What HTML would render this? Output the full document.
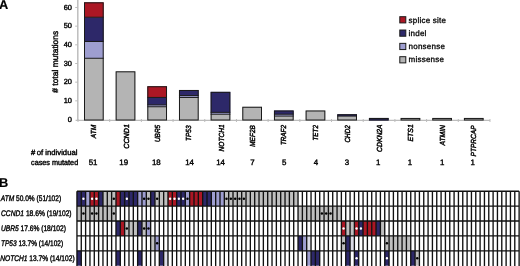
<!DOCTYPE html>
<html><head><meta charset="utf-8"><style>
html,body{margin:0;padding:0;background:#fff;}
body{width:520px;height:266px;overflow:hidden;}
svg{display:block;will-change:transform;text-rendering:geometricPrecision;font-family:"Liberation Sans",sans-serif;}
text{stroke:#000;stroke-width:0.2px;stroke-linejoin:round;}
.tk{font-size:7.4px;fill:#000;stroke-width:0.4px;}
.gl{font-size:7.4px;font-style:italic;fill:#000;stroke-width:0.45px;}
.num{font-size:7.9px;fill:#000;stroke-width:0.4px;}
.yl{font-size:8.45px;fill:#000;stroke-width:0.4px;}
.lg{font-size:8px;fill:#000;letter-spacing:0.22px;stroke-width:0.3px;}
.pl{font-size:12.8px;font-weight:bold;fill:#000;}
.cm{font-size:7.7px;fill:#000;stroke-width:0.4px;}
.rl{font-size:8.1px;fill:#000;stroke-width:0.4px;}
</style></head><body>
<svg width="520" height="266" viewBox="0 0 520 266">
<line x1="77.8" y1="0" x2="77.8" y2="121" stroke="#bdbdbd" stroke-width="1.5"/>
<text x="71.9" y="121.70" class="tk" text-anchor="end">0</text>
<line x1="75.2" y1="100.83" x2="77.9" y2="100.83" stroke="#bdbdbd" stroke-width="1"/>
<text x="71.9" y="103.03" class="tk" text-anchor="end">10</text>
<line x1="75.2" y1="82.16" x2="77.9" y2="82.16" stroke="#bdbdbd" stroke-width="1"/>
<text x="71.9" y="84.36" class="tk" text-anchor="end">20</text>
<line x1="75.2" y1="63.49" x2="77.9" y2="63.49" stroke="#bdbdbd" stroke-width="1"/>
<text x="71.9" y="65.69" class="tk" text-anchor="end">30</text>
<line x1="75.2" y1="44.82" x2="77.9" y2="44.82" stroke="#bdbdbd" stroke-width="1"/>
<text x="71.9" y="47.02" class="tk" text-anchor="end">40</text>
<line x1="75.2" y1="26.15" x2="77.9" y2="26.15" stroke="#bdbdbd" stroke-width="1"/>
<text x="71.9" y="28.35" class="tk" text-anchor="end">50</text>
<line x1="75.2" y1="7.48" x2="77.9" y2="7.48" stroke="#bdbdbd" stroke-width="1"/>
<text x="71.9" y="9.68" class="tk" text-anchor="end">60</text>
<line x1="75.6" y1="120.4" x2="490" y2="120.4" stroke="#bdbdbd" stroke-width="1.1"/>
<line x1="78.00" y1="119" x2="78.00" y2="122" stroke="#bdbdbd" stroke-width="1"/>
<line x1="109.69" y1="119" x2="109.69" y2="122" stroke="#bdbdbd" stroke-width="1"/>
<line x1="141.38" y1="119" x2="141.38" y2="122" stroke="#bdbdbd" stroke-width="1"/>
<line x1="173.07" y1="119" x2="173.07" y2="122" stroke="#bdbdbd" stroke-width="1"/>
<line x1="204.76" y1="119" x2="204.76" y2="122" stroke="#bdbdbd" stroke-width="1"/>
<line x1="236.45" y1="119" x2="236.45" y2="122" stroke="#bdbdbd" stroke-width="1"/>
<line x1="268.14" y1="119" x2="268.14" y2="122" stroke="#bdbdbd" stroke-width="1"/>
<line x1="299.83" y1="119" x2="299.83" y2="122" stroke="#bdbdbd" stroke-width="1"/>
<line x1="331.52" y1="119" x2="331.52" y2="122" stroke="#bdbdbd" stroke-width="1"/>
<line x1="363.21" y1="119" x2="363.21" y2="122" stroke="#bdbdbd" stroke-width="1"/>
<line x1="394.90" y1="119" x2="394.90" y2="122" stroke="#bdbdbd" stroke-width="1"/>
<line x1="426.59" y1="119" x2="426.59" y2="122" stroke="#bdbdbd" stroke-width="1"/>
<line x1="458.28" y1="119" x2="458.28" y2="122" stroke="#bdbdbd" stroke-width="1"/>
<line x1="489.97" y1="119" x2="489.97" y2="122" stroke="#bdbdbd" stroke-width="1"/>
<rect x="84.00" y="58.27" width="19.70" height="62.23" fill="#b4b4b4"/>
<rect x="84.00" y="41.48" width="19.70" height="16.79" fill="#9e9ed0"/>
<rect x="84.00" y="17.23" width="19.70" height="24.25" fill="#2d2869"/>
<rect x="84.00" y="2.31" width="19.70" height="14.92" fill="#ab1724"/>
<rect x="84.50" y="2.81" width="18.70" height="117.19" fill="none" stroke="#1a1a1a" stroke-width="1"/>
<line x1="84.00" y1="58.27" x2="103.70" y2="58.27" stroke="#1a1a1a" stroke-width="1"/>
<line x1="84.00" y1="41.48" x2="103.70" y2="41.48" stroke="#1a1a1a" stroke-width="1"/>
<line x1="84.00" y1="17.23" x2="103.70" y2="17.23" stroke="#1a1a1a" stroke-width="1"/>
<text transform="translate(96.40,124.90) rotate(-90)" class="gl" text-anchor="end" textLength="13.30" lengthAdjust="spacingAndGlyphs">ATM</text>
<text x="93.05" y="164.5" class="num" text-anchor="middle">51</text>
<rect x="115.66" y="71.32" width="19.70" height="49.18" fill="#b4b4b4"/>
<rect x="116.16" y="71.82" width="18.70" height="48.18" fill="none" stroke="#1a1a1a" stroke-width="1"/>
<text transform="translate(129.10,124.10) rotate(-90)" class="gl" text-anchor="end" textLength="24.70" lengthAdjust="spacingAndGlyphs">CCND1</text>
<text x="123.76" y="164.5" class="num" text-anchor="middle">19</text>
<rect x="147.32" y="106.76" width="19.70" height="13.74" fill="#b4b4b4"/>
<rect x="147.32" y="104.90" width="19.70" height="1.87" fill="#9e9ed0"/>
<rect x="147.32" y="97.44" width="19.70" height="7.46" fill="#2d2869"/>
<rect x="147.32" y="86.24" width="19.70" height="11.19" fill="#ab1724"/>
<rect x="147.82" y="86.74" width="18.70" height="33.26" fill="none" stroke="#1a1a1a" stroke-width="1"/>
<line x1="147.32" y1="106.76" x2="167.02" y2="106.76" stroke="#1a1a1a" stroke-width="1"/>
<line x1="147.32" y1="104.90" x2="167.02" y2="104.90" stroke="#1a1a1a" stroke-width="1"/>
<line x1="147.32" y1="97.44" x2="167.02" y2="97.44" stroke="#1a1a1a" stroke-width="1"/>
<text transform="translate(159.60,124.80) rotate(-90)" class="gl" text-anchor="end" textLength="17.30" lengthAdjust="spacingAndGlyphs">UBR5</text>
<text x="156.27" y="164.5" class="num" text-anchor="middle">18</text>
<rect x="178.98" y="97.44" width="19.70" height="23.06" fill="#b4b4b4"/>
<rect x="178.98" y="95.57" width="19.70" height="1.87" fill="#9e9ed0"/>
<rect x="178.98" y="89.98" width="19.70" height="5.60" fill="#2d2869"/>
<rect x="179.48" y="90.48" width="18.70" height="29.52" fill="none" stroke="#1a1a1a" stroke-width="1"/>
<line x1="178.98" y1="97.44" x2="198.68" y2="97.44" stroke="#1a1a1a" stroke-width="1"/>
<line x1="178.98" y1="95.57" x2="198.68" y2="95.57" stroke="#1a1a1a" stroke-width="1"/>
<text transform="translate(190.90,125.40) rotate(-90)" class="gl" text-anchor="end" textLength="15.60" lengthAdjust="spacingAndGlyphs">TP53</text>
<text x="189.63" y="164.5" class="num" text-anchor="middle">14</text>
<rect x="210.64" y="114.22" width="19.70" height="6.28" fill="#b4b4b4"/>
<rect x="210.64" y="112.36" width="19.70" height="1.87" fill="#9e9ed0"/>
<rect x="210.64" y="91.84" width="19.70" height="20.52" fill="#2d2869"/>
<rect x="211.14" y="92.34" width="18.70" height="27.66" fill="none" stroke="#1a1a1a" stroke-width="1"/>
<line x1="210.64" y1="114.22" x2="230.34" y2="114.22" stroke="#1a1a1a" stroke-width="1"/>
<line x1="210.64" y1="112.36" x2="230.34" y2="112.36" stroke="#1a1a1a" stroke-width="1"/>
<text transform="translate(224.00,124.40) rotate(-90)" class="gl" text-anchor="end" textLength="27.10" lengthAdjust="spacingAndGlyphs">NOTCH1</text>
<text x="220.59" y="164.5" class="num" text-anchor="middle">14</text>
<rect x="242.30" y="106.76" width="19.70" height="13.74" fill="#b4b4b4"/>
<rect x="242.80" y="107.26" width="18.70" height="12.74" fill="none" stroke="#1a1a1a" stroke-width="1"/>
<text transform="translate(254.80,125.20) rotate(-90)" class="gl" text-anchor="end" textLength="21.60" lengthAdjust="spacingAndGlyphs">MEF2B</text>
<text x="252.35" y="164.5" class="num" text-anchor="middle">7</text>
<rect x="273.96" y="116.09" width="19.70" height="4.41" fill="#b4b4b4"/>
<rect x="273.96" y="114.22" width="19.70" height="1.87" fill="#9e9ed0"/>
<rect x="273.96" y="110.49" width="19.70" height="3.73" fill="#2d2869"/>
<rect x="274.46" y="110.99" width="18.70" height="9.01" fill="none" stroke="#1a1a1a" stroke-width="1"/>
<line x1="273.96" y1="116.09" x2="293.66" y2="116.09" stroke="#1a1a1a" stroke-width="1"/>
<line x1="273.96" y1="114.22" x2="293.66" y2="114.22" stroke="#1a1a1a" stroke-width="1"/>
<text transform="translate(285.90,125.00) rotate(-90)" class="gl" text-anchor="end" textLength="20.10" lengthAdjust="spacingAndGlyphs">TRAF2</text>
<text x="284.21" y="164.5" class="num" text-anchor="middle">5</text>
<rect x="305.62" y="110.49" width="19.70" height="10.01" fill="#b4b4b4"/>
<rect x="306.12" y="110.99" width="18.70" height="9.01" fill="none" stroke="#1a1a1a" stroke-width="1"/>
<text transform="translate(318.20,125.00) rotate(-90)" class="gl" text-anchor="end" textLength="15.50" lengthAdjust="spacingAndGlyphs">TET2</text>
<text x="315.87" y="164.5" class="num" text-anchor="middle">4</text>
<rect x="337.28" y="116.09" width="19.70" height="4.41" fill="#b4b4b4"/>
<rect x="337.28" y="114.22" width="19.70" height="1.87" fill="#2d2869"/>
<rect x="337.78" y="114.72" width="18.70" height="5.28" fill="none" stroke="#1a1a1a" stroke-width="1"/>
<line x1="337.28" y1="116.09" x2="356.98" y2="116.09" stroke="#1a1a1a" stroke-width="1"/>
<text transform="translate(349.90,125.20) rotate(-90)" class="gl" text-anchor="end" textLength="17.40" lengthAdjust="spacingAndGlyphs">CHD2</text>
<text x="346.83" y="164.5" class="num" text-anchor="middle">3</text>
<rect x="368.94" y="117.95" width="19.70" height="2.55" fill="#2d2869"/>
<rect x="369.44" y="118.45" width="18.70" height="1.55" fill="none" stroke="#1a1a1a" stroke-width="1"/>
<text transform="translate(381.60,124.40) rotate(-90)" class="gl" text-anchor="end" textLength="27.50" lengthAdjust="spacingAndGlyphs">CDKN2A</text>
<text x="378.19" y="164.5" class="num" text-anchor="middle">1</text>
<rect x="400.60" y="117.95" width="19.70" height="2.55" fill="#b4b4b4"/>
<rect x="401.10" y="118.45" width="18.70" height="1.55" fill="none" stroke="#1a1a1a" stroke-width="1"/>
<text transform="translate(413.20,124.20) rotate(-90)" class="gl" text-anchor="end" textLength="17.30" lengthAdjust="spacingAndGlyphs">ETS1</text>
<text x="409.85" y="164.5" class="num" text-anchor="middle">1</text>
<rect x="432.26" y="117.95" width="19.70" height="2.55" fill="#b4b4b4"/>
<rect x="432.76" y="118.45" width="18.70" height="1.55" fill="none" stroke="#1a1a1a" stroke-width="1"/>
<text transform="translate(444.70,125.00) rotate(-90)" class="gl" text-anchor="end" textLength="20.50" lengthAdjust="spacingAndGlyphs">ATMIN</text>
<text x="442.31" y="164.5" class="num" text-anchor="middle">1</text>
<rect x="463.92" y="117.95" width="19.70" height="2.55" fill="#b4b4b4"/>
<rect x="464.42" y="118.45" width="18.70" height="1.55" fill="none" stroke="#1a1a1a" stroke-width="1"/>
<text transform="translate(476.04,125.44) rotate(-90)" class="gl" text-anchor="end" textLength="31.04" lengthAdjust="spacingAndGlyphs">PTPRCAP</text>
<text x="472.77" y="164.5" class="num" text-anchor="middle">1</text>
<text transform="translate(58.2,61.75) rotate(-90)" class="yl" text-anchor="middle"># total mutations</text>
<rect x="399.8" y="16.70" width="6" height="6.2" fill="#ab1724" stroke="#1a1a1a" stroke-width="1"/>
<text x="408.6" y="22.50" class="lg">splice site</text>
<rect x="399.8" y="30.03" width="6" height="6.2" fill="#2d2869" stroke="#1a1a1a" stroke-width="1"/>
<text x="408.6" y="35.83" class="lg">indel</text>
<rect x="399.8" y="43.36" width="6" height="6.2" fill="#9e9ed0" stroke="#1a1a1a" stroke-width="1"/>
<text x="408.6" y="49.16" class="lg">nonsense</text>
<rect x="399.8" y="56.69" width="6" height="6.2" fill="#b4b4b4" stroke="#1a1a1a" stroke-width="1"/>
<text x="408.6" y="62.49" class="lg">missense</text>
<text x="-1.0" y="9.0" class="pl">A</text>
<text x="-1.1" y="186.7" class="pl">B</text>
<text x="31" y="154.9" class="cm" textLength="46.4" lengthAdjust="spacingAndGlyphs"># of individual</text>
<text x="31" y="164.5" class="cm" textLength="47.2" lengthAdjust="spacingAndGlyphs">cases mutated</text>
<rect x="76.95" y="191.2" width="442.17" height="74.50" fill="#fff"/>
<rect x="76.95" y="191.20" width="4.33" height="14.90" fill="#2d2869"/>
<rect x="81.28" y="191.20" width="4.33" height="14.90" fill="#2d2869"/>
<circle cx="83.45" cy="198.65" r="1.25" fill="#fff"/>
<rect x="85.62" y="191.20" width="4.33" height="14.90" fill="#9e9ed0"/>
<rect x="89.95" y="191.20" width="4.33" height="14.90" fill="#ab1724"/>
<circle cx="92.12" cy="198.65" r="1.25" fill="#fff"/>
<rect x="94.29" y="191.20" width="4.33" height="14.90" fill="#ab1724"/>
<circle cx="96.46" cy="198.65" r="1.25" fill="#fff"/>
<rect x="98.62" y="191.20" width="4.33" height="14.90" fill="#2d2869"/>
<rect x="102.96" y="191.20" width="4.33" height="14.90" fill="#bfbfbf"/>
<rect x="107.30" y="191.20" width="4.33" height="14.90" fill="#bfbfbf"/>
<rect x="111.63" y="191.20" width="4.33" height="14.90" fill="#bfbfbf"/>
<circle cx="113.80" cy="198.65" r="1.25" fill="#000"/>
<rect x="115.97" y="191.20" width="4.33" height="14.90" fill="#ab1724"/>
<rect x="120.30" y="191.20" width="4.33" height="14.90" fill="#2d2869"/>
<rect x="124.64" y="191.20" width="4.33" height="14.90" fill="#2d2869"/>
<circle cx="126.80" cy="198.65" r="1.25" fill="#fff"/>
<rect x="128.97" y="191.20" width="4.33" height="14.90" fill="#2d2869"/>
<rect x="133.31" y="191.20" width="4.33" height="14.90" fill="#2d2869"/>
<rect x="137.64" y="191.20" width="4.33" height="14.90" fill="#9e9ed0"/>
<rect x="141.98" y="191.20" width="4.33" height="14.90" fill="#9e9ed0"/>
<circle cx="144.14" cy="198.65" r="1.25" fill="#000"/>
<rect x="146.31" y="191.20" width="4.33" height="14.90" fill="#bfbfbf"/>
<circle cx="148.48" cy="198.65" r="1.25" fill="#000"/>
<rect x="150.64" y="191.20" width="4.33" height="14.90" fill="#2d2869"/>
<rect x="154.98" y="191.20" width="4.33" height="14.90" fill="#bfbfbf"/>
<circle cx="157.15" cy="198.65" r="1.25" fill="#000"/>
<rect x="159.31" y="191.20" width="4.33" height="14.90" fill="#bfbfbf"/>
<rect x="163.65" y="191.20" width="4.33" height="14.90" fill="#bfbfbf"/>
<rect x="167.99" y="191.20" width="4.33" height="14.90" fill="#ab1724"/>
<circle cx="170.15" cy="198.65" r="1.25" fill="#fff"/>
<rect x="172.32" y="191.20" width="4.33" height="14.90" fill="#ab1724"/>
<circle cx="174.49" cy="198.65" r="1.25" fill="#fff"/>
<rect x="176.66" y="191.20" width="4.33" height="14.90" fill="#2d2869"/>
<circle cx="178.82" cy="198.65" r="1.25" fill="#fff"/>
<rect x="180.99" y="191.20" width="4.33" height="14.90" fill="#2d2869"/>
<circle cx="183.16" cy="198.65" r="1.25" fill="#fff"/>
<rect x="185.32" y="191.20" width="4.33" height="14.90" fill="#9e9ed0"/>
<circle cx="187.49" cy="198.65" r="1.25" fill="#000"/>
<rect x="189.66" y="191.20" width="4.33" height="14.90" fill="#ab1724"/>
<rect x="194.00" y="191.20" width="4.33" height="14.90" fill="#ab1724"/>
<rect x="198.33" y="191.20" width="4.33" height="14.90" fill="#ab1724"/>
<rect x="202.67" y="191.20" width="4.33" height="14.90" fill="#2d2869"/>
<rect x="207.00" y="191.20" width="4.33" height="14.90" fill="#2d2869"/>
<rect x="211.33" y="191.20" width="4.33" height="14.90" fill="#9e9ed0"/>
<rect x="215.67" y="191.20" width="4.33" height="14.90" fill="#9e9ed0"/>
<rect x="220.00" y="191.20" width="4.33" height="14.90" fill="#9e9ed0"/>
<rect x="224.34" y="191.20" width="4.33" height="14.90" fill="#bfbfbf"/>
<circle cx="226.51" cy="198.65" r="1.25" fill="#000"/>
<rect x="228.68" y="191.20" width="4.33" height="14.90" fill="#bfbfbf"/>
<circle cx="230.84" cy="198.65" r="1.25" fill="#000"/>
<rect x="233.01" y="191.20" width="4.33" height="14.90" fill="#bfbfbf"/>
<circle cx="235.18" cy="198.65" r="1.25" fill="#000"/>
<rect x="237.35" y="191.20" width="4.33" height="14.90" fill="#bfbfbf"/>
<circle cx="239.51" cy="198.65" r="1.25" fill="#000"/>
<rect x="241.68" y="191.20" width="4.33" height="14.90" fill="#bfbfbf"/>
<circle cx="243.85" cy="198.65" r="1.25" fill="#000"/>
<rect x="246.01" y="191.20" width="4.33" height="14.90" fill="#bfbfbf"/>
<rect x="250.35" y="191.20" width="4.33" height="14.90" fill="#bfbfbf"/>
<rect x="254.69" y="191.20" width="4.33" height="14.90" fill="#bfbfbf"/>
<rect x="259.02" y="191.20" width="4.33" height="14.90" fill="#bfbfbf"/>
<rect x="263.36" y="191.20" width="4.33" height="14.90" fill="#bfbfbf"/>
<rect x="267.69" y="191.20" width="4.33" height="14.90" fill="#bfbfbf"/>
<rect x="272.02" y="191.20" width="4.33" height="14.90" fill="#bfbfbf"/>
<rect x="276.36" y="191.20" width="4.33" height="14.90" fill="#bfbfbf"/>
<rect x="280.69" y="191.20" width="4.33" height="14.90" fill="#bfbfbf"/>
<rect x="285.03" y="191.20" width="4.33" height="14.90" fill="#bfbfbf"/>
<rect x="289.37" y="191.20" width="4.33" height="14.90" fill="#bfbfbf"/>
<rect x="293.70" y="191.20" width="4.33" height="14.90" fill="#bfbfbf"/>
<rect x="76.95" y="206.10" width="4.33" height="14.90" fill="#bfbfbf"/>
<rect x="81.28" y="206.10" width="4.33" height="14.90" fill="#bfbfbf"/>
<circle cx="83.45" cy="213.55" r="1.25" fill="#000"/>
<rect x="85.62" y="206.10" width="4.33" height="14.90" fill="#bfbfbf"/>
<rect x="89.95" y="206.10" width="4.33" height="14.90" fill="#bfbfbf"/>
<circle cx="92.12" cy="213.55" r="1.25" fill="#000"/>
<rect x="94.29" y="206.10" width="4.33" height="14.90" fill="#bfbfbf"/>
<circle cx="96.46" cy="213.55" r="1.25" fill="#000"/>
<rect x="98.62" y="206.10" width="4.33" height="14.90" fill="#bfbfbf"/>
<rect x="102.96" y="206.10" width="4.33" height="14.90" fill="#bfbfbf"/>
<rect x="107.30" y="206.10" width="4.33" height="14.90" fill="#bfbfbf"/>
<rect x="111.63" y="206.10" width="4.33" height="14.90" fill="#bfbfbf"/>
<circle cx="113.80" cy="213.55" r="1.25" fill="#000"/>
<rect x="298.04" y="206.10" width="4.33" height="14.90" fill="#bfbfbf"/>
<rect x="302.37" y="206.10" width="4.33" height="14.90" fill="#bfbfbf"/>
<rect x="306.70" y="206.10" width="4.33" height="14.90" fill="#bfbfbf"/>
<rect x="311.04" y="206.10" width="4.33" height="14.90" fill="#bfbfbf"/>
<rect x="315.38" y="206.10" width="4.33" height="14.90" fill="#bfbfbf"/>
<rect x="319.71" y="206.10" width="4.33" height="14.90" fill="#bfbfbf"/>
<circle cx="321.88" cy="213.55" r="1.25" fill="#000"/>
<rect x="324.05" y="206.10" width="4.33" height="14.90" fill="#bfbfbf"/>
<circle cx="326.21" cy="213.55" r="1.25" fill="#000"/>
<rect x="328.38" y="206.10" width="4.33" height="14.90" fill="#bfbfbf"/>
<circle cx="330.55" cy="213.55" r="1.25" fill="#000"/>
<rect x="332.71" y="206.10" width="4.33" height="14.90" fill="#bfbfbf"/>
<rect x="337.05" y="206.10" width="4.33" height="14.90" fill="#bfbfbf"/>
<rect x="115.97" y="221.00" width="4.33" height="14.90" fill="#2d2869"/>
<rect x="120.30" y="221.00" width="4.33" height="14.90" fill="#ab1724"/>
<rect x="124.64" y="221.00" width="4.33" height="14.90" fill="#bfbfbf"/>
<circle cx="126.80" cy="228.45" r="1.25" fill="#000"/>
<rect x="128.97" y="221.00" width="4.33" height="14.90" fill="#bfbfbf"/>
<rect x="133.31" y="221.00" width="4.33" height="14.90" fill="#bfbfbf"/>
<rect x="137.64" y="221.00" width="4.33" height="14.90" fill="#2d2869"/>
<rect x="141.98" y="221.00" width="4.33" height="14.90" fill="#bfbfbf"/>
<circle cx="144.14" cy="228.45" r="1.25" fill="#000"/>
<rect x="146.31" y="221.00" width="4.33" height="14.90" fill="#9e9ed0"/>
<circle cx="148.48" cy="228.45" r="1.25" fill="#000"/>
<rect x="341.38" y="221.00" width="4.33" height="14.90" fill="#ab1724"/>
<circle cx="343.55" cy="228.45" r="1.25" fill="#fff"/>
<rect x="345.72" y="221.00" width="4.33" height="14.90" fill="#bfbfbf"/>
<rect x="350.06" y="221.00" width="4.33" height="14.90" fill="#bfbfbf"/>
<rect x="354.39" y="221.00" width="4.33" height="14.90" fill="#ab1724"/>
<circle cx="356.56" cy="228.45" r="1.25" fill="#fff"/>
<rect x="358.72" y="221.00" width="4.33" height="14.90" fill="#2d2869"/>
<circle cx="360.89" cy="228.45" r="1.25" fill="#fff"/>
<rect x="363.06" y="221.00" width="4.33" height="14.90" fill="#ab1724"/>
<rect x="367.39" y="221.00" width="4.33" height="14.90" fill="#ab1724"/>
<rect x="371.73" y="221.00" width="4.33" height="14.90" fill="#ab1724"/>
<rect x="376.06" y="221.00" width="4.33" height="14.90" fill="#2d2869"/>
<rect x="380.40" y="221.00" width="4.33" height="14.90" fill="#bfbfbf"/>
<rect x="150.64" y="235.90" width="4.33" height="14.90" fill="#bfbfbf"/>
<rect x="154.98" y="235.90" width="4.33" height="14.90" fill="#9e9ed0"/>
<circle cx="157.15" cy="243.35" r="1.25" fill="#000"/>
<rect x="298.04" y="235.90" width="4.33" height="14.90" fill="#2d2869"/>
<rect x="302.37" y="235.90" width="4.33" height="14.90" fill="#9e9ed0"/>
<rect x="306.70" y="235.90" width="4.33" height="14.90" fill="#dcdce6"/>
<rect x="341.38" y="235.90" width="4.33" height="14.90" fill="#bfbfbf"/>
<circle cx="343.55" cy="243.35" r="1.25" fill="#000"/>
<rect x="345.72" y="235.90" width="4.33" height="14.90" fill="#2d2869"/>
<rect x="350.06" y="235.90" width="4.33" height="14.90" fill="#dcdce6"/>
<rect x="384.74" y="235.90" width="4.33" height="14.90" fill="#bfbfbf"/>
<circle cx="386.90" cy="243.35" r="1.25" fill="#000"/>
<rect x="389.07" y="235.90" width="4.33" height="14.90" fill="#bfbfbf"/>
<rect x="393.40" y="235.90" width="4.33" height="14.90" fill="#bfbfbf"/>
<rect x="397.74" y="235.90" width="4.33" height="14.90" fill="#bfbfbf"/>
<rect x="402.07" y="235.90" width="4.33" height="14.90" fill="#bfbfbf"/>
<rect x="406.41" y="235.90" width="4.33" height="14.90" fill="#bfbfbf"/>
<rect x="76.95" y="250.80" width="4.33" height="14.90" fill="#2d2869"/>
<rect x="115.97" y="250.80" width="4.33" height="14.90" fill="#2d2869"/>
<rect x="137.64" y="250.80" width="4.33" height="14.90" fill="#2d2869"/>
<rect x="159.31" y="250.80" width="4.33" height="14.90" fill="#2d2869"/>
<rect x="163.65" y="250.80" width="4.33" height="14.90" fill="#dcdce6"/>
<rect x="306.70" y="250.80" width="4.33" height="14.90" fill="#9e9ed0"/>
<rect x="311.04" y="250.80" width="4.33" height="14.90" fill="#2d2869"/>
<rect x="315.38" y="250.80" width="4.33" height="14.90" fill="#2d2869"/>
<rect x="345.72" y="250.80" width="4.33" height="14.90" fill="#2d2869"/>
<rect x="354.39" y="250.80" width="4.33" height="14.90" fill="#2d2869"/>
<circle cx="356.56" cy="258.25" r="1.25" fill="#fff"/>
<rect x="384.74" y="250.80" width="4.33" height="14.90" fill="#2d2869"/>
<circle cx="386.90" cy="258.25" r="1.25" fill="#fff"/>
<rect x="410.75" y="250.80" width="4.33" height="14.90" fill="#2d2869"/>
<rect x="415.08" y="250.80" width="4.33" height="14.90" fill="#bfbfbf"/>
<circle cx="417.25" cy="258.25" r="1.25" fill="#000"/>
<line x1="76.95" y1="191.20" x2="76.95" y2="266" stroke="#111" stroke-width="1.35"/>
<line x1="81.28" y1="191.20" x2="81.28" y2="266" stroke="#111" stroke-width="1.35"/>
<line x1="85.62" y1="191.20" x2="85.62" y2="266" stroke="#111" stroke-width="1.35"/>
<line x1="89.95" y1="191.20" x2="89.95" y2="266" stroke="#111" stroke-width="1.35"/>
<line x1="94.29" y1="191.20" x2="94.29" y2="266" stroke="#111" stroke-width="1.35"/>
<line x1="98.62" y1="191.20" x2="98.62" y2="266" stroke="#111" stroke-width="1.35"/>
<line x1="102.96" y1="191.20" x2="102.96" y2="266" stroke="#111" stroke-width="1.35"/>
<line x1="107.30" y1="191.20" x2="107.30" y2="266" stroke="#111" stroke-width="1.35"/>
<line x1="111.63" y1="191.20" x2="111.63" y2="266" stroke="#111" stroke-width="1.35"/>
<line x1="115.97" y1="191.20" x2="115.97" y2="266" stroke="#111" stroke-width="1.35"/>
<line x1="120.30" y1="191.20" x2="120.30" y2="266" stroke="#111" stroke-width="1.35"/>
<line x1="124.64" y1="191.20" x2="124.64" y2="266" stroke="#111" stroke-width="1.35"/>
<line x1="128.97" y1="191.20" x2="128.97" y2="266" stroke="#111" stroke-width="1.35"/>
<line x1="133.31" y1="191.20" x2="133.31" y2="266" stroke="#111" stroke-width="1.35"/>
<line x1="137.64" y1="191.20" x2="137.64" y2="266" stroke="#111" stroke-width="1.35"/>
<line x1="141.98" y1="191.20" x2="141.98" y2="266" stroke="#111" stroke-width="1.35"/>
<line x1="146.31" y1="191.20" x2="146.31" y2="266" stroke="#111" stroke-width="1.35"/>
<line x1="150.64" y1="191.20" x2="150.64" y2="266" stroke="#111" stroke-width="1.35"/>
<line x1="154.98" y1="191.20" x2="154.98" y2="266" stroke="#111" stroke-width="1.35"/>
<line x1="159.31" y1="191.20" x2="159.31" y2="266" stroke="#111" stroke-width="1.35"/>
<line x1="163.65" y1="191.20" x2="163.65" y2="266" stroke="#111" stroke-width="1.35"/>
<line x1="167.99" y1="191.20" x2="167.99" y2="266" stroke="#111" stroke-width="1.35"/>
<line x1="172.32" y1="191.20" x2="172.32" y2="266" stroke="#111" stroke-width="1.35"/>
<line x1="176.66" y1="191.20" x2="176.66" y2="266" stroke="#111" stroke-width="1.35"/>
<line x1="180.99" y1="191.20" x2="180.99" y2="266" stroke="#111" stroke-width="1.35"/>
<line x1="185.32" y1="191.20" x2="185.32" y2="266" stroke="#111" stroke-width="1.35"/>
<line x1="189.66" y1="191.20" x2="189.66" y2="266" stroke="#111" stroke-width="1.35"/>
<line x1="194.00" y1="191.20" x2="194.00" y2="266" stroke="#111" stroke-width="1.35"/>
<line x1="198.33" y1="191.20" x2="198.33" y2="266" stroke="#111" stroke-width="1.35"/>
<line x1="202.67" y1="191.20" x2="202.67" y2="266" stroke="#111" stroke-width="1.35"/>
<line x1="207.00" y1="191.20" x2="207.00" y2="266" stroke="#111" stroke-width="1.35"/>
<line x1="211.33" y1="191.20" x2="211.33" y2="266" stroke="#111" stroke-width="1.35"/>
<line x1="215.67" y1="191.20" x2="215.67" y2="266" stroke="#111" stroke-width="1.35"/>
<line x1="220.00" y1="191.20" x2="220.00" y2="266" stroke="#111" stroke-width="1.35"/>
<line x1="224.34" y1="191.20" x2="224.34" y2="266" stroke="#111" stroke-width="1.35"/>
<line x1="228.68" y1="191.20" x2="228.68" y2="266" stroke="#111" stroke-width="1.35"/>
<line x1="233.01" y1="191.20" x2="233.01" y2="266" stroke="#111" stroke-width="1.35"/>
<line x1="237.35" y1="191.20" x2="237.35" y2="266" stroke="#111" stroke-width="1.35"/>
<line x1="241.68" y1="191.20" x2="241.68" y2="266" stroke="#111" stroke-width="1.35"/>
<line x1="246.01" y1="191.20" x2="246.01" y2="266" stroke="#111" stroke-width="1.35"/>
<line x1="250.35" y1="191.20" x2="250.35" y2="266" stroke="#111" stroke-width="1.35"/>
<line x1="254.69" y1="191.20" x2="254.69" y2="266" stroke="#111" stroke-width="1.35"/>
<line x1="259.02" y1="191.20" x2="259.02" y2="266" stroke="#111" stroke-width="1.35"/>
<line x1="263.36" y1="191.20" x2="263.36" y2="266" stroke="#111" stroke-width="1.35"/>
<line x1="267.69" y1="191.20" x2="267.69" y2="266" stroke="#111" stroke-width="1.35"/>
<line x1="272.02" y1="191.20" x2="272.02" y2="266" stroke="#111" stroke-width="1.35"/>
<line x1="276.36" y1="191.20" x2="276.36" y2="266" stroke="#111" stroke-width="1.35"/>
<line x1="280.69" y1="191.20" x2="280.69" y2="266" stroke="#111" stroke-width="1.35"/>
<line x1="285.03" y1="191.20" x2="285.03" y2="266" stroke="#111" stroke-width="1.35"/>
<line x1="289.37" y1="191.20" x2="289.37" y2="266" stroke="#111" stroke-width="1.35"/>
<line x1="293.70" y1="191.20" x2="293.70" y2="266" stroke="#111" stroke-width="1.35"/>
<line x1="298.04" y1="191.20" x2="298.04" y2="266" stroke="#111" stroke-width="1.35"/>
<line x1="302.37" y1="191.20" x2="302.37" y2="266" stroke="#111" stroke-width="1.35"/>
<line x1="306.70" y1="191.20" x2="306.70" y2="266" stroke="#111" stroke-width="1.35"/>
<line x1="311.04" y1="191.20" x2="311.04" y2="266" stroke="#111" stroke-width="1.35"/>
<line x1="315.38" y1="191.20" x2="315.38" y2="266" stroke="#111" stroke-width="1.35"/>
<line x1="319.71" y1="191.20" x2="319.71" y2="266" stroke="#111" stroke-width="1.35"/>
<line x1="324.05" y1="191.20" x2="324.05" y2="266" stroke="#111" stroke-width="1.35"/>
<line x1="328.38" y1="191.20" x2="328.38" y2="266" stroke="#111" stroke-width="1.35"/>
<line x1="332.71" y1="191.20" x2="332.71" y2="266" stroke="#111" stroke-width="1.35"/>
<line x1="337.05" y1="191.20" x2="337.05" y2="266" stroke="#111" stroke-width="1.35"/>
<line x1="341.38" y1="191.20" x2="341.38" y2="266" stroke="#111" stroke-width="1.35"/>
<line x1="345.72" y1="191.20" x2="345.72" y2="266" stroke="#111" stroke-width="1.35"/>
<line x1="350.06" y1="191.20" x2="350.06" y2="266" stroke="#111" stroke-width="1.35"/>
<line x1="354.39" y1="191.20" x2="354.39" y2="266" stroke="#111" stroke-width="1.35"/>
<line x1="358.72" y1="191.20" x2="358.72" y2="266" stroke="#111" stroke-width="1.35"/>
<line x1="363.06" y1="191.20" x2="363.06" y2="266" stroke="#111" stroke-width="1.35"/>
<line x1="367.39" y1="191.20" x2="367.39" y2="266" stroke="#111" stroke-width="1.35"/>
<line x1="371.73" y1="191.20" x2="371.73" y2="266" stroke="#111" stroke-width="1.35"/>
<line x1="376.06" y1="191.20" x2="376.06" y2="266" stroke="#111" stroke-width="1.35"/>
<line x1="380.40" y1="191.20" x2="380.40" y2="266" stroke="#111" stroke-width="1.35"/>
<line x1="384.74" y1="191.20" x2="384.74" y2="266" stroke="#111" stroke-width="1.35"/>
<line x1="389.07" y1="191.20" x2="389.07" y2="266" stroke="#111" stroke-width="1.35"/>
<line x1="393.40" y1="191.20" x2="393.40" y2="266" stroke="#111" stroke-width="1.35"/>
<line x1="397.74" y1="191.20" x2="397.74" y2="266" stroke="#111" stroke-width="1.35"/>
<line x1="402.07" y1="191.20" x2="402.07" y2="266" stroke="#111" stroke-width="1.35"/>
<line x1="406.41" y1="191.20" x2="406.41" y2="266" stroke="#111" stroke-width="1.35"/>
<line x1="410.75" y1="191.20" x2="410.75" y2="266" stroke="#111" stroke-width="1.35"/>
<line x1="415.08" y1="191.20" x2="415.08" y2="266" stroke="#111" stroke-width="1.35"/>
<line x1="419.41" y1="191.20" x2="419.41" y2="266" stroke="#111" stroke-width="1.35"/>
<line x1="423.75" y1="191.20" x2="423.75" y2="266" stroke="#111" stroke-width="1.35"/>
<line x1="428.08" y1="191.20" x2="428.08" y2="266" stroke="#111" stroke-width="1.35"/>
<line x1="432.42" y1="191.20" x2="432.42" y2="266" stroke="#111" stroke-width="1.35"/>
<line x1="436.75" y1="191.20" x2="436.75" y2="266" stroke="#111" stroke-width="1.35"/>
<line x1="441.09" y1="191.20" x2="441.09" y2="266" stroke="#111" stroke-width="1.35"/>
<line x1="445.43" y1="191.20" x2="445.43" y2="266" stroke="#111" stroke-width="1.35"/>
<line x1="449.76" y1="191.20" x2="449.76" y2="266" stroke="#111" stroke-width="1.35"/>
<line x1="454.09" y1="191.20" x2="454.09" y2="266" stroke="#111" stroke-width="1.35"/>
<line x1="458.43" y1="191.20" x2="458.43" y2="266" stroke="#111" stroke-width="1.35"/>
<line x1="462.76" y1="191.20" x2="462.76" y2="266" stroke="#111" stroke-width="1.35"/>
<line x1="467.10" y1="191.20" x2="467.10" y2="266" stroke="#111" stroke-width="1.35"/>
<line x1="471.44" y1="191.20" x2="471.44" y2="266" stroke="#111" stroke-width="1.35"/>
<line x1="475.77" y1="191.20" x2="475.77" y2="266" stroke="#111" stroke-width="1.35"/>
<line x1="480.10" y1="191.20" x2="480.10" y2="266" stroke="#111" stroke-width="1.35"/>
<line x1="484.44" y1="191.20" x2="484.44" y2="266" stroke="#111" stroke-width="1.35"/>
<line x1="488.77" y1="191.20" x2="488.77" y2="266" stroke="#111" stroke-width="1.35"/>
<line x1="493.11" y1="191.20" x2="493.11" y2="266" stroke="#111" stroke-width="1.35"/>
<line x1="497.44" y1="191.20" x2="497.44" y2="266" stroke="#111" stroke-width="1.35"/>
<line x1="501.78" y1="191.20" x2="501.78" y2="266" stroke="#111" stroke-width="1.35"/>
<line x1="506.12" y1="191.20" x2="506.12" y2="266" stroke="#111" stroke-width="1.35"/>
<line x1="510.45" y1="191.20" x2="510.45" y2="266" stroke="#111" stroke-width="1.35"/>
<line x1="514.78" y1="191.20" x2="514.78" y2="266" stroke="#111" stroke-width="1.35"/>
<line x1="519.12" y1="191.20" x2="519.12" y2="266" stroke="#111" stroke-width="1.35"/>
<line x1="76.95" y1="191.20" x2="519.12" y2="191.20" stroke="#111" stroke-width="1.35"/>
<line x1="76.95" y1="206.10" x2="519.12" y2="206.10" stroke="#111" stroke-width="1.35"/>
<line x1="76.95" y1="221.00" x2="519.12" y2="221.00" stroke="#111" stroke-width="1.35"/>
<line x1="76.95" y1="235.90" x2="519.12" y2="235.90" stroke="#111" stroke-width="1.35"/>
<line x1="76.95" y1="250.80" x2="519.12" y2="250.80" stroke="#111" stroke-width="1.35"/>
<text x="0.8" y="201.15" class="rl" textLength="60.30" lengthAdjust="spacingAndGlyphs"><tspan font-style="italic">ATM</tspan> 50.0% (51/102)</text>
<text x="1.0" y="216.05" class="rl" textLength="70.60" lengthAdjust="spacingAndGlyphs"><tspan font-style="italic">CCND1</tspan> 18.6% (19/102)</text>
<text x="0.9" y="230.95" class="rl" textLength="65.10" lengthAdjust="spacingAndGlyphs"><tspan font-style="italic">UBR5</tspan> 17.6% (18/102)</text>
<text x="0.9" y="245.85" class="rl" textLength="62.30" lengthAdjust="spacingAndGlyphs"><tspan font-style="italic">TP53</tspan> 13.7% (14/102)</text>
<text x="0.2" y="260.75" class="rl" textLength="74.40" lengthAdjust="spacingAndGlyphs"><tspan font-style="italic">NOTCH1</tspan> 13.7% (14/102)</text>
</svg>
</body></html>
